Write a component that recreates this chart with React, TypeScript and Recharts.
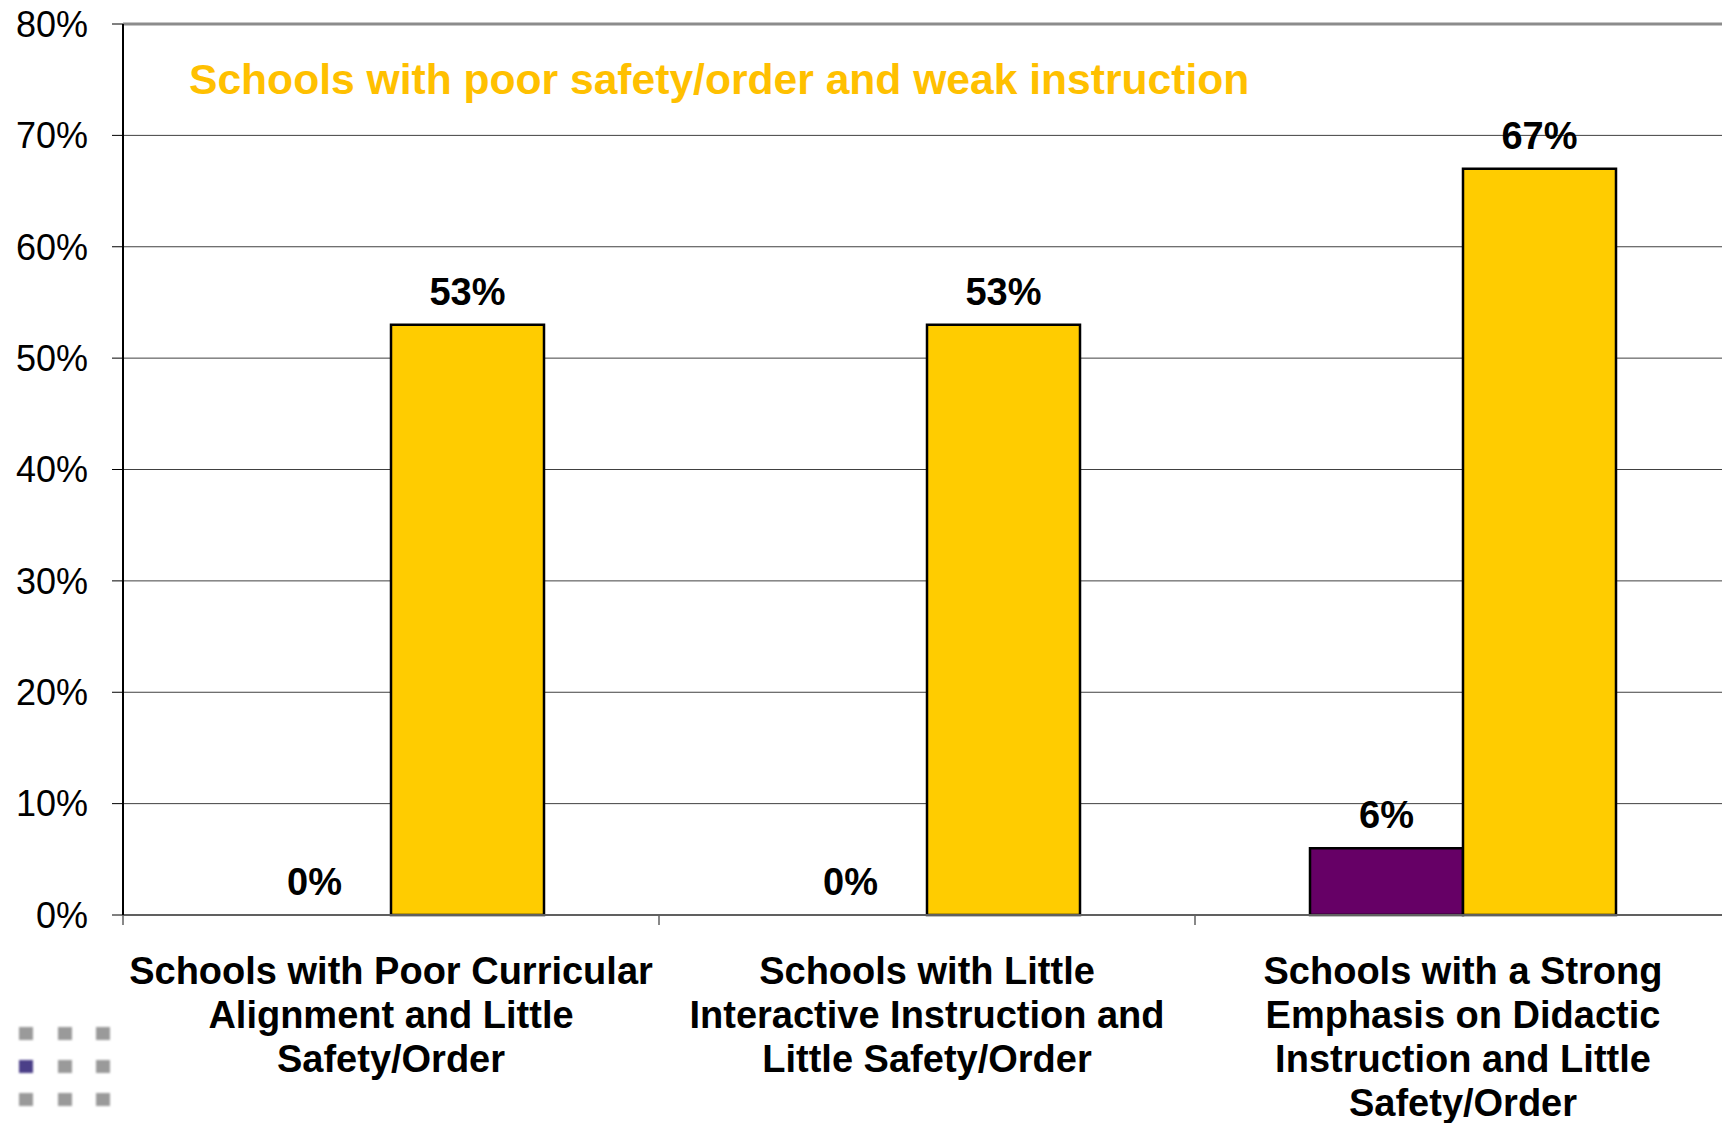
import {
  BarChart,
  Bar,
  XAxis,
  YAxis,
  CartesianGrid,
  LabelList,
  ReferenceLine,
} from "recharts";

const categories = [
  "Schools with Poor Curricular\nAlignment and Little\nSafety/Order",
  "Schools with Little\nInteractive Instruction and\nLittle Safety/Order",
  "Schools with a Strong\nEmphasis on Didactic\nInstruction and Little\nSafety/Order",
];
const purpleValues = [0, 0, 6];
const yellowValues = [53, 53, 67];
const yTicks = [0, 10, 20, 30, 40, 50, 60, 70, 80];
const title = "Schools with poor safety/order and weak instruction";

const data = categories.map((name, i) => ({
  name,
  purple: purpleValues[i],
  yellow: yellowValues[i],
}));

const FONT = "'Liberation Sans', Arial, sans-serif";

function CategoryTick(props: any) {
  const { x, y, payload, index, visibleTicksCount, width } = props;
  const half = payload.offset ?? width / visibleTicksCount / 2;
  const lines = String(payload.value).split("\n");
  return (
    <g>
      <line x1={x - half} x2={x - half} y1={y} y2={y + 10} stroke="#606060" strokeWidth={1.5} />
      {index === visibleTicksCount - 1 && (
        <line x1={x + half} x2={x + half} y1={y} y2={y + 10} stroke="#606060" strokeWidth={1.5} />
      )}
      {lines.map((l, i) => (
        <text
          key={i}
          x={x}
          y={y + 69 + i * 44}
          textAnchor="middle"
          fontSize={38}
          fontWeight="bold"
          fontFamily={FONT}
          fill="#000"
        >
          {l}
        </text>
      ))}
    </g>
  );
}

const pct = (v: any) => `${v}%`;

const labelStyle = {
  fontSize: 38,
  fontWeight: "bold" as const,
  fontFamily: FONT,
  fill: "#000",
};

// yellow labels; also prints the purple label when the purple bar is zero-height
// (recharts drops labels for empty bars)
function YellowLabel(props: any) {
  const { x, y, width, height, value, index } = props;
  const p = purpleValues[index];
  return (
    <g>
      <text x={x + width / 2} y={y - 20} textAnchor="middle" {...labelStyle}>
        {pct(value)}
      </text>
      {p === 0 && (
        <text x={x - width / 2} y={y + height - 20} textAnchor="middle" {...labelStyle}>
          {pct(p)}
        </text>
      )}
    </g>
  );
}

export default function App() {
  return (
    <div
      style={{
        position: "fixed",
        left: 0,
        top: 0,
        width: 1722,
        height: 1123,
        overflow: "hidden",
        background: "#fff",
      }}
    >
      <BarChart
        width={1740}
        height={1123}
        data={data}
        margin={{ top: 24, right: 9, bottom: 0, left: 0 }}
        barCategoryGap={115}
        barGap={0}
      >
        <CartesianGrid vertical={false} stroke="#404040" strokeWidth={1} />
        <XAxis
          dataKey="name"
          height={208}
          tickSize={0}
          tickMargin={0}
          tickLine={false}
          interval={0}
          axisLine={{ stroke: "#606060", strokeWidth: 2 }}
          tick={<CategoryTick />}
        />
        <YAxis
          type="number"
          domain={[0, 80]}
          ticks={yTicks}
          interval={0}
          width={123}
          tickSize={11}
          tickMargin={24}
          tickFormatter={pct}
          axisLine={{ stroke: "#000", strokeWidth: 2 }}
          tickLine={{ stroke: "#000", strokeWidth: 1 }}
          tick={{ fontSize: 36, fill: "#000", fontFamily: FONT }}
        />
        <ReferenceLine y={80} stroke="#8c8c8c" strokeWidth={3} />
        <Bar dataKey="purple" fill="#660066" stroke="#000" strokeWidth={2.5} isAnimationActive={false}>
          <LabelList
            dataKey="purple"
            position="top"
            offset={20}
            formatter={pct}
            {...labelStyle}
          />
        </Bar>
        <Bar dataKey="yellow" fill="#FFCC00" stroke="#000" strokeWidth={2.5} isAnimationActive={false}>
          <LabelList dataKey="yellow" content={<YellowLabel />} />
        </Bar>
      </BarChart>
      <div
        style={{
          position: "absolute",
          left: 189,
          top: 58,
          fontFamily: FONT,
          fontSize: 42.6,
          lineHeight: "42px",
          fontWeight: "bold",
          color: "#FFC000",
          whiteSpace: "nowrap",
        }}
      >
        {title}
      </div>
      {[0, 1, 2].map((r) =>
        [0, 1, 2].map((c) => (
          <div
            key={`${r}-${c}`}
            style={{
              position: "absolute",
              left: 19 + c * 38.5,
              top: 1027 + r * 33,
              width: 14,
              height: 13,
              background: r === 1 && c === 0 ? "#4b3f88" : "#9a9a9a",
              filter: "blur(1px)",
            }}
          />
        ))
      )}
    </div>
  );
}
